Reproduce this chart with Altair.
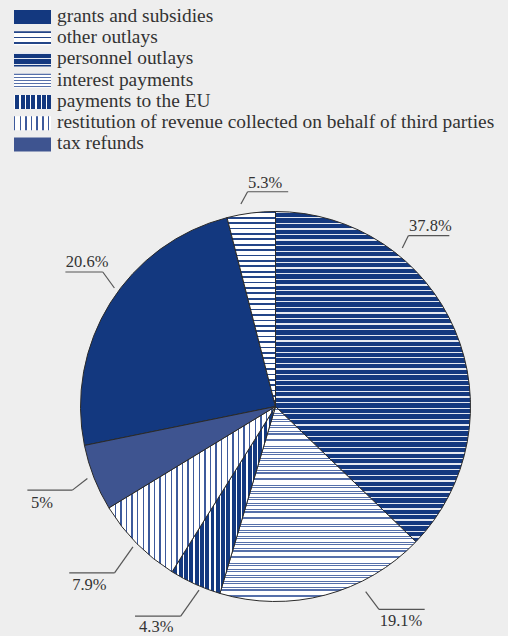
import altair as alt
import numpy as np
import pandas as pd

# ---------------- data ----------------
categories = [
    "grants and subsidies",
    "other outlays",
    "personnel outlays",
    "interest payments",
    "payments to the EU",
    "restitution of revenue collected on behalf of third parties",
    "tax refunds",
]
share_labels = ["20.6%", "5.3%", "37.8%", "19.1%", "4.3%", "7.9%", "5%"]
# slice sizes as drawn in the picture (percent of the full circle)
drawn_share = [24.2, 4.0, 37.2, 17.4, 4.3, 7.4, 5.5]
# clockwise position of each slice, starting at 12 o'clock
pie_order = [6, 7, 1, 2, 3, 4, 5]

# ---------------- layout / style ----------------
W, H = 508, 636
CX, CY, R = 275.5, 406.5, 195.0
NAVY = "#13387f"
INK = "#333333"
LINE = "#555555"
FONT = "Liberation Serif, Times New Roman, serif"

fills = {
    "grants and subsidies": dict(kind="solid", bg=NAVY),
    "other outlays": dict(kind="h", bg="#ffffff", fg="#234588", period=5.4, width=1.7),
    "personnel outlays": dict(kind="h", bg=NAVY, fg="#e4e8f1", period=5.6, width=1.3),
    "interest payments": dict(kind="h", bg="#ffffff", fg="#5670aa", period=3.0, width=1.0),
    "payments to the EU": dict(kind="v", bg=NAVY, fg="#ffffff", period=5.3, width=1.4),
    "restitution of revenue collected on behalf of third parties":
        dict(kind="v", bg="#ffffff", fg="#3d5a9c", period=5.6, width=1.5),
    "tax refunds": dict(kind="solid", bg="#3e5490"),
}

# label leader layout: angle shift from slice middle (deg), gap beyond rim,
# elbow offset (dx, dy), underline length (signed), text baseline offset, text dx
label_layout = {
    "personnel outlays": (-28.3, 8.0, 6.0, -12.3, 41.0, -4.4, 0.7),
    "interest payments": (-11.2, 11.0, 13.3, 17.6, 45.7, 16.6, 0.7),
    "payments to the EU": (-1.7, 4.0, -18.3, 26.0, -45.7, 15.4, 4.0),
    "restitution of revenue collected on behalf of third parties": (0.1, 5.0, -18.4, 26.0, -45.3, 17.6, 3.0),
    "tax refunds": (0.5, 6.4, -15.0, 11.7, -45.0, 17.8, 3.7),
    "grants and subsidies": (4.3, 5.0, -11.6, -16.0, -37.4, -4.5, 0.4),
    "other outlays": (-2.5, 10.4, 6.7, -12.3, 40.6, -4.2, 0.3),
}

LEG_X0, LEG_X1, LEG_TX = 14, 51, 57
LEG_BASE0, LEG_STEP = 21.7, 21.27

# ---------------- table ----------------
df = pd.DataFrame({
    "cat": categories,
    "label": share_labels,
    "share": drawn_share,
    "order": pie_order,
    "idx": list(range(len(categories))),
})
df = df.sort_values("order")
df["end"] = df["share"].cumsum()
df["start"] = df["end"] - df["share"]
df = df.sort_values("idx").reset_index(drop=True)

a1 = df["start"] * 3.6
a2 = df["end"] * 3.6
mid = (a1 + a2) / 2

ax_, ay_, ex_, ey_, hx_, tx_, ty_ = [], [], [], [], [], [], []
for i, c in enumerate(df["cat"]):
    sh, gap, dx, dy, ln, tdy, tdx = label_layout[c]
    ang = np.radians(mid[i] + sh)
    r = R + gap
    ax = CX + r * np.sin(ang)
    ay = CY - r * np.cos(ang)
    ex, ey = ax + dx, ay + dy
    hx = ex + ln
    ax_.append(ax); ay_.append(ay); ex_.append(ex); ey_.append(ey); hx_.append(hx)
    tx_.append(min(ex, hx) + tdx)
    ty_.append(ey + tdy)
df["ax"], df["ay"], df["ex"], df["ey"], df["hx"] = ax_, ay_, ex_, ey_, hx_
df["tx"], df["ty"] = tx_, ty_

df["lx0"] = LEG_X0
df["lx1"] = LEG_X1
df["ltx"] = LEG_TX
df["lbase"] = LEG_BASE0 + LEG_STEP * df["idx"]
df["ltop"] = df["lbase"] - 11.7
df["lbot"] = df["lbase"] + 2.3


def stripe_fill(spec, extent):
    if spec["kind"] == "solid":
        return spec["bg"]
    p, w, fg, bg = spec["period"], spec["width"], spec["fg"], spec["bg"]
    stops = []
    k = 0
    while k * p < extent:
        s = k * p / extent
        e = min((k * p + w) / extent, 1.0)
        n = min((k + 1) * p / extent, 1.0)
        stops += [(s, fg), (e, fg), (e, bg), (n, bg)]
        k += 1
    grad = {
        "gradient": "linear",
        "x1": 0, "y1": 0,
        "x2": 0 if spec["kind"] == "h" else 1,
        "y2": 1 if spec["kind"] == "h" else 0,
        "stops": [{"offset": round(float(o), 5), "color": col} for o, col in stops],
    }
    return grad


def arc_extent(t1, t2, kind):
    t = np.radians(np.linspace(t1, t2, 1441))
    xs = np.concatenate([[0.0], R * np.sin(t)])
    ys = np.concatenate([[0.0], -R * np.cos(t)])
    return (ys.max() - ys.min()) if kind == "h" else (xs.max() - xs.min())


XS = alt.Scale(domain=[0, W], nice=False, zero=False)
YS = alt.Scale(domain=[0, H], reverse=True, nice=False, zero=False)
TS = alt.Scale(domain=[0, 100])

base = alt.Chart(df)
layers = []

# pie slices
for i, c in enumerate(df["cat"]):
    spec = fills[c]
    ext = arc_extent(a1[i], a2[i], spec["kind"]) if spec["kind"] != "solid" else 1
    layers.append(
        base.transform_filter(alt.datum.cat == c)
        .mark_arc(radius=R, fill=stripe_fill(spec, ext), stroke="#2a2a2a", strokeWidth=1)
        .encode(
            theta=alt.Theta("start:Q", scale=TS),
            theta2="end:Q",
            x=alt.value(CX),
            y=alt.value(CY),
        )
    )

# legend swatches
for i, c in enumerate(df["cat"]):
    spec = fills[c]
    ext = (LEG_X1 - LEG_X0) if spec["kind"] == "v" else 14.0
    layers.append(
        base.transform_filter(alt.datum.cat == c)
        .mark_rect(fill=stripe_fill(spec, ext))
        .encode(
            x=alt.X("lx0:Q", scale=XS, axis=None),
            x2="lx1:Q",
            y=alt.Y("ltop:Q", scale=YS, axis=None),
            y2="lbot:Q",
        )
    )

legend_text = base.mark_text(
    align="left", baseline="alphabetic", font=FONT, fontSize=19.4, color=INK
).encode(
    x=alt.X("ltx:Q", scale=XS, axis=None),
    y=alt.Y("lbase:Q", scale=YS, axis=None),
    text="cat:N",
)

diag = base.mark_rule(color=LINE, strokeWidth=1.2).encode(
    x=alt.X("ax:Q", scale=XS, axis=None),
    y=alt.Y("ay:Q", scale=YS, axis=None),
    x2="ex:Q",
    y2="ey:Q",
)
underline = base.mark_rule(color=LINE, strokeWidth=1.2).encode(
    x=alt.X("ex:Q", scale=XS, axis=None),
    y=alt.Y("ey:Q", scale=YS, axis=None),
    x2="hx:Q",
    y2="ey:Q",
)
labels = base.mark_text(
    align="left", baseline="alphabetic", font=FONT, fontSize=16.5, color=INK
).encode(
    x=alt.X("tx:Q", scale=XS, axis=None),
    y=alt.Y("ty:Q", scale=YS, axis=None),
    text="label:N",
)

chart = (
    alt.layer(*layers, legend_text, diag, underline, labels)
    .properties(width=W, height=H, padding=0, autosize="none", background="#eeeeee")
    .configure_view(stroke=None)
)

chart.save("out.html", embed_options={"renderer": "svg", "actions": False})
